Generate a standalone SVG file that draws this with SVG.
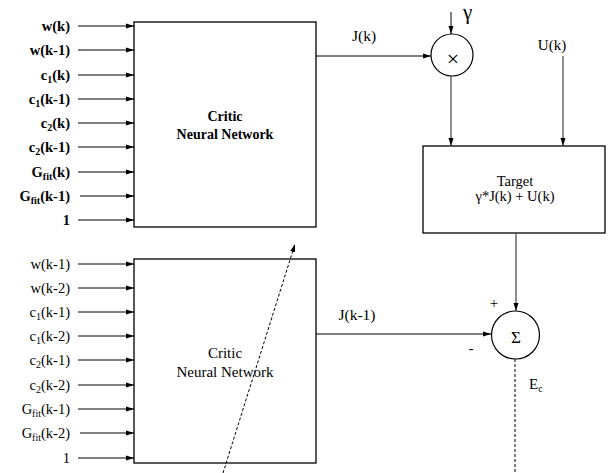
<svg xmlns="http://www.w3.org/2000/svg" width="612" height="473" viewBox="0 0 612 473" font-family="'Liberation Serif', 'DejaVu Serif', serif">
<defs>
<marker id="ah" markerUnits="userSpaceOnUse" markerWidth="8" markerHeight="6" refX="8" refY="3" orient="auto">
<path d="M0,0.5 L8,3 L0,5.5 z" fill="#000"/>
</marker>
<style>
text{font-family:'Liberation Serif','DejaVu Serif',serif;fill:#000}
.lb{font-size:14.5px;font-weight:bold;text-anchor:end}
.ln{font-size:14.5px;text-anchor:end}
.box{fill:#fff;stroke:#000;stroke-width:1.3}
.c{fill:#fff;stroke:#000;stroke-width:1.2}
.a{stroke:#000;stroke-width:1;fill:none;marker-end:url(#ah)}
.g{stroke:#444;stroke-width:1.2;fill:none;marker-end:url(#ah)}
.d{stroke:#000;stroke-width:1;fill:none;stroke-dasharray:3,2}
.mid{text-anchor:middle}
</style>
</defs>
<rect width="612" height="473" fill="#fff"/>

<g id="critic-top">
<rect class="box" x="134" y="22" width="182" height="205"/>
<text class="mid" x="225" y="121" font-size="14" font-weight="bold">Critic</text>
<text class="mid" x="225" y="139" font-size="14" font-weight="bold">Neural Network</text>
</g>

<g id="inputs-top">
<text class="lb" x="70" y="31">w(k)</text>
<text class="lb" x="70" y="55">w(k-1)</text>
<text class="lb" x="70" y="80">c<tspan font-size="10" dy="3">1</tspan><tspan dy="-3">(k)</tspan></text>
<text class="lb" x="70" y="104">c<tspan font-size="10" dy="3">1</tspan><tspan dy="-3">(k-1)</tspan></text>
<text class="lb" x="70" y="128">c<tspan font-size="10" dy="3">2</tspan><tspan dy="-3">(k)</tspan></text>
<text class="lb" x="70" y="152">c<tspan font-size="10" dy="3">2</tspan><tspan dy="-3">(k-1)</tspan></text>
<text class="lb" x="70" y="177">G<tspan font-size="10" dy="3">fit</tspan><tspan dy="-3">(k)</tspan></text>
<text class="lb" x="70" y="201">G<tspan font-size="10" dy="3">fit</tspan><tspan dy="-3">(k-1)</tspan></text>
<text class="lb" x="70" y="225">1</text>
</g>

<g id="critic-bottom">
<rect class="box" x="134" y="259" width="182" height="204"/>
<text class="mid" x="225" y="358" font-size="15">Critic</text>
<text class="mid" x="225" y="377" font-size="15">Neural Network</text>
</g>

<g id="inputs-bottom">
<text class="ln" x="70" y="269">w(k-1)</text>
<text class="ln" x="70" y="293">w(k-2)</text>
<text class="ln" x="70" y="317">c<tspan font-size="10" dy="3">1</tspan><tspan dy="-3">(k-1)</tspan></text>
<text class="ln" x="70" y="341">c<tspan font-size="10" dy="3">1</tspan><tspan dy="-3">(k-2)</tspan></text>
<text class="ln" x="70" y="365">c<tspan font-size="10" dy="3">2</tspan><tspan dy="-3">(k-1)</tspan></text>
<text class="ln" x="70" y="390">c<tspan font-size="10" dy="3">2</tspan><tspan dy="-3">(k-2)</tspan></text>
<text class="ln" x="70" y="414">G<tspan font-size="10" dy="3">fit</tspan><tspan dy="-3">(k-1)</tspan></text>
<text class="ln" x="70" y="438">G<tspan font-size="10" dy="3">fit</tspan><tspan dy="-3">(k-2)</tspan></text>
<text class="ln" x="70" y="463">1</text>
</g>

<g id="multiply">
<circle class="c" cx="452" cy="55" r="21"/>
<text class="mid" x="453" y="66" font-size="22">×</text>
<text x="463" y="19" font-size="21">γ</text>
</g>

<g id="target">
<rect class="box" x="423" y="146" width="182" height="87"/>
<text class="mid" x="515" y="186" font-size="14.5">Target</text>
<text class="mid" x="515" y="201" font-size="14.5">γ*J(k) + U(k)</text>
</g>

<g id="sum">
<circle class="c" cx="515.5" cy="335" r="24"/>
<text class="mid" x="516" y="343" font-size="17">Σ</text>
<text class="mid" x="494" y="308" font-size="15">+</text>
<text class="mid" x="471" y="353" font-size="15">-</text>
</g>

<g id="labels">
<text class="mid" x="364" y="41" font-size="15.5">J(k)</text>
<text class="mid" x="552" y="50" font-size="15">U(k)</text>
<text class="mid" x="357" y="320" font-size="15.5">J(k-1)</text>
<text x="529" y="389" font-size="15">E<tspan font-size="10" dy="3">c</tspan></text>
</g>

<g id="connectors">
<line class="a" x1="78" y1="26" x2="134" y2="26"/>
<line class="a" x1="78" y1="50" x2="134" y2="50"/>
<line class="a" x1="78" y1="75" x2="134" y2="75"/>
<line class="a" x1="78" y1="99" x2="134" y2="99"/>
<line class="a" x1="78" y1="123" x2="134" y2="123"/>
<line class="a" x1="78" y1="147" x2="134" y2="147"/>
<line class="a" x1="78" y1="172" x2="134" y2="172"/>
<line class="a" x1="80" y1="196" x2="134" y2="196"/>
<line class="a" x1="78" y1="220" x2="134" y2="220"/>

<line class="a" x1="78" y1="264" x2="134" y2="264"/>
<line class="a" x1="78" y1="288" x2="134" y2="288"/>
<line class="a" x1="78" y1="312" x2="134" y2="312"/>
<line class="a" x1="78" y1="336" x2="134" y2="336"/>
<line class="a" x1="78" y1="360" x2="134" y2="360"/>
<line class="a" x1="78" y1="385" x2="134" y2="385"/>
<line class="a" x1="78" y1="409" x2="134" y2="409"/>
<line class="a" x1="80" y1="433" x2="134" y2="433"/>
<line class="a" x1="78" y1="458" x2="134" y2="458"/>

<line class="a" x1="316" y1="56" x2="431" y2="56"/>
<line class="a" x1="451" y1="12" x2="451" y2="34"/>
<line class="g" x1="451" y1="76" x2="451" y2="146"/>
<line class="g" x1="563" y1="56" x2="563" y2="146"/>
<line class="g" x1="516" y1="233" x2="516" y2="311"/>
<line class="a" x1="316" y1="334" x2="491" y2="334"/>
<line class="d" x1="515" y1="359" x2="515" y2="473"/>
<line class="d" x1="223" y1="473" x2="295" y2="244" marker-end="url(#ah)"/>
</g>
</svg>
